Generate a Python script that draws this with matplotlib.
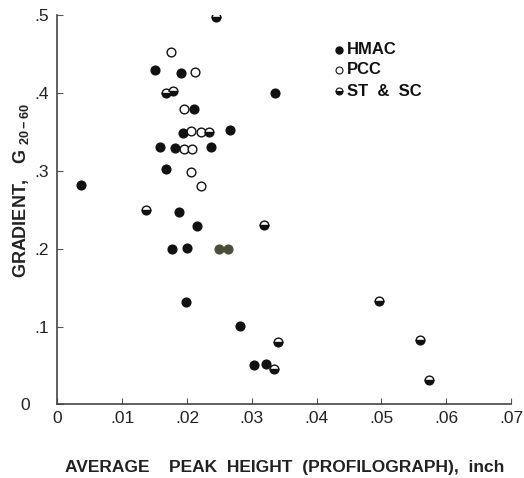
import matplotlib.pyplot as plt
from matplotlib.transforms import ScaledTranslation

plt.rcParams['font.family'] = ['Liberation Sans', 'DejaVu Sans']
plt.rcParams['mathtext.default'] = 'regular'

# HMAC (filled)
hmac_x = [0.0150, 0.0191, 0.0336, 0.0211, 0.0193, 0.0266, 0.0158, 0.0182,
          0.0237, 0.0168, 0.0036, 0.0188, 0.0215, 0.0177, 0.0200, 0.0198,
          0.0281, 0.0303, 0.0322]
hmac_y = [0.429, 0.425, 0.400, 0.379, 0.348, 0.352, 0.331, 0.329,
          0.331, 0.302, 0.282, 0.247, 0.229, 0.200, 0.201, 0.131,
          0.101, 0.051, 0.052]
# two faded dark points (scan colour) at .20
hmac2_x = [0.0250, 0.0263]
hmac2_y = [0.200, 0.200]

# PCC (open)
pcc_x = [0.0175, 0.0213, 0.0195, 0.0206, 0.0221, 0.0196, 0.0208, 0.0206, 0.0221]
pcc_y = [0.453, 0.427, 0.379, 0.351, 0.350, 0.328, 0.328, 0.299, 0.280]

# ST & SC (half filled)
st_x = [0.0244, 0.0168, 0.0179, 0.0234, 0.0136, 0.0318, 0.0334, 0.0340,
        0.0497, 0.0560, 0.0574]
st_y = [0.498, 0.400, 0.403, 0.350, 0.250, 0.231, 0.046, 0.080,
        0.133, 0.083, 0.032]

xticks = [0, 0.01, 0.02, 0.03, 0.04, 0.05, 0.06, 0.07]
xticklabels = ['0', '.01', '.02', '.03', '.04', '.05', '.06', '.07']
yticks = [0, 0.1, 0.2, 0.3, 0.4, 0.5]
yticklabels = ['0', '.1', '.2', '.3', '.4', '.5']

fig = plt.figure(figsize=(5.24, 4.78), dpi=100)
ax = fig.add_axes([0.1097, 0.1538, 0.8655, 0.8148])

ms = 6.3
ink = '#111111'
ax.plot(hmac_x, hmac_y, 'o', ms=ms, color=ink, mec=ink, ls='none')
ax.plot(hmac2_x, hmac2_y, 'o', ms=ms, color='#4a4d3a', mec='#4a4d3a', ls='none')
ax.plot(pcc_x, pcc_y, 'o', ms=ms, mfc='white', mec=ink, mew=1.0, ls='none')
ax.plot(st_x, st_y, 'o', ms=ms, fillstyle='bottom', color=ink,
        mfc=ink, mfcalt='white', mec=ink, mew=1.0, ls='none')

ax.set_xlim(0, 0.07)
ax.set_ylim(0, 0.5)
ax.set_xticks(xticks)
ax.set_xticklabels(xticklabels)
ax.set_yticks(yticks)
ax.set_yticklabels(yticklabels)
ax.tick_params(direction='in', length=4, width=0.8, color='#555555',
               labelsize=12.5, labelcolor='#222222')
ax.tick_params(axis='x', pad=5)
ax.tick_params(axis='y', pad=6)
# the y "0" sits further left in the original
lab0 = ax.get_yticklabels()[0]
lab0.set_transform(lab0.get_transform() + ScaledTranslation(-14 / 72, 0, fig.dpi_scale_trans))
for s in ['top', 'right']:
    ax.spines[s].set_visible(False)
for s in ['left', 'bottom']:
    ax.spines[s].set_color('#444444')
    ax.spines[s].set_linewidth(1.2)

ax.set_xlabel('AVERAGE    PEAK  HEIGHT  (PROFILOGRAPH),  inch', fontsize=12.5,
              fontweight='bold', labelpad=24, color='#222222')
ax.set_ylabel('GRADIENT,   G $_{20-60}$', fontsize=13, fontweight='bold',
              color='#222222')
ax.yaxis.set_label_coords(-0.058, 0.55)

# legend
leg_x = 339
leg_rows = [(50, 'HMAC', 'full'), (70, 'PCC', 'open'), (91, 'ST  &  SC', 'half')]
for py, lab, kind in leg_rows:
    fx = leg_x / 524
    fy = 1 - py / 478
    if kind == 'full':
        fig.lines.append(plt.Line2D([fx], [fy], marker='o', ms=5, color=ink,
                                    transform=fig.transFigure))
    elif kind == 'open':
        fig.lines.append(plt.Line2D([fx], [fy], marker='o', ms=5, mfc='white',
                                    mec=ink, mew=0.8, transform=fig.transFigure))
    else:
        fig.lines.append(plt.Line2D([fx], [fy], marker='o', ms=5, fillstyle='bottom',
                                    mfc=ink, mfcalt='white', mec=ink, mew=0.8,
                                    transform=fig.transFigure))
    fig.text(fx + 8 / 524, fy, lab, fontsize=12, fontweight='bold',
             va='center', ha='left', color='#111111')

fig.savefig('out.png', dpi=100)
